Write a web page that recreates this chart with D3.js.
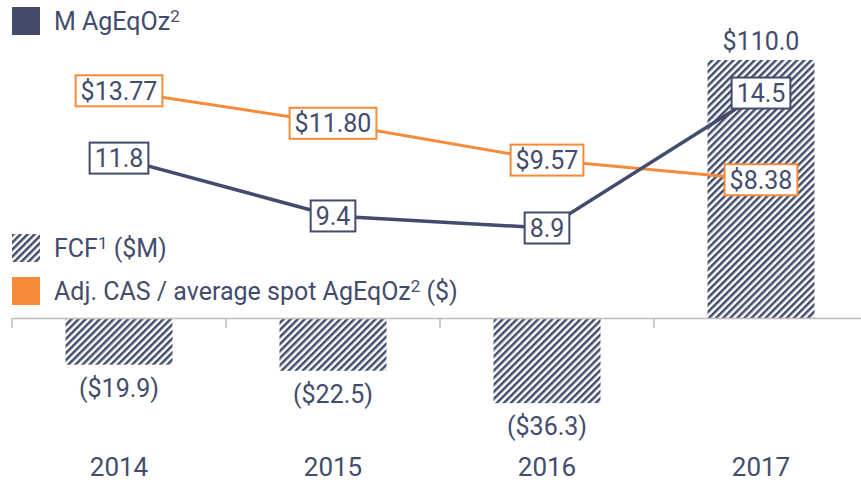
<!DOCTYPE html>
<html>
<head>
<meta charset="utf-8">
<script src="https://cdn.jsdelivr.net/npm/d3@7"></script>
<style>
  body { margin: 0; background: #fff; }
  svg text { font-family: Roboto, "Liberation Sans", sans-serif; fill: #434c6c; }
</style>
</head>
<body>
<div id="chart"></div>
<script>
// chart data
const years = ["2014", "2015", "2016", "2017"];
const fcf = [-19.9, -22.5, -36.3, 110.0];
const fcfLabels = ["($19.9)", "($22.5)", "($36.3)", "$110.0"];
const agEqOz = [11.8, 9.4, 8.9, 14.5];
const agEqOzLabels = ["11.8", "9.4", "8.9", "14.5"];
const adjCas = [13.77, 11.80, 9.57, 8.38];
const adjCasLabels = ["$13.77", "$11.80", "$9.57", "$8.38"];

const width = 861, height = 483;
const navy = "#434c6c", orange = "#f68b3a";

const svg = d3.select("#chart").append("svg")
    .attr("width", width)
    .attr("height", height);

// hatch pattern for the FCF bars
const defs = svg.append("defs");
const pat = defs.append("pattern")
    .attr("id", "hatch")
    .attr("patternUnits", "userSpaceOnUse")
    .attr("width", 5)
    .attr("height", 5)
    .attr("patternTransform", "rotate(45)");
pat.append("rect").attr("width", 5).attr("height", 5).attr("fill", "#fff");
pat.append("line")
    .attr("x1", 0).attr("y1", 0).attr("x2", 0).attr("y2", 5)
    .attr("stroke", navy)
    .attr("stroke-width", 5);

const x = d3.scaleBand()
    .domain(years)
    .range([12, 868])
    .paddingInner(0)
    .paddingOuter(0);

const yBar = d3.scaleLinear().domain([-40, 110]).range([411.8, 60]);
const yOz = d3.scaleLinear().domain([0, 15]).range([442.5, 81]);
const yCas = d3.scaleLinear().domain([0, 15]).range([318, 70.5]);

const barW = x.bandwidth() * 0.5;
const cx = d => x(d) + x.bandwidth() / 2;

// bars
svg.append("g")
    .selectAll("rect")
    .data(fcf)
    .enter().append("rect")
    .attr("x", (d, i) => cx(years[i]) - barW / 2)
    .attr("y", d => yBar(Math.max(0, d)))
    .attr("width", barW)
    .attr("height", d => Math.abs(yBar(d) - yBar(0)))
    .attr("fill", "url(#hatch)");

// axis
const axis = svg.append("g")
    .attr("transform", `translate(0,${yBar(0)})`)
    .call(d3.axisBottom(x).tickSize(0).tickFormat(""));
axis.select(".domain").attr("stroke", "#bdbdbd").attr("stroke-width", 1.5);
axis.selectAll(".tick").remove();
axis.selectAll("line.sep")
    .data(years)
    .enter().append("line")
    .attr("class", "sep")
    .attr("x1", d => x(d)).attr("x2", d => x(d))
    .attr("y1", 0).attr("y2", 10)
    .attr("stroke", "#bdbdbd")
    .attr("stroke-width", 1.5);

// year labels
svg.append("g")
    .selectAll("text")
    .data(years)
    .enter().append("text")
    .attr("x", d => cx(d))
    .attr("y", 476)
    .attr("text-anchor", "middle")
    .style("font-size", "26px")
    .text(d => d);

// bar value labels
svg.append("g")
    .selectAll("text")
    .data(fcf)
    .enter().append("text")
    .attr("x", (d, i) => cx(years[i]))
    .attr("y", d => d >= 0 ? yBar(d) - 10 : yBar(d) + 32)
    .attr("text-anchor", "middle")
    .style("font-size", "25px")
    .text((d, i) => fcfLabels[i]);

// lines
const lineOz = d3.line().x((d, i) => cx(years[i])).y(d => yOz(d));
const lineCas = d3.line().x((d, i) => cx(years[i])).y(d => yCas(d));

svg.append("path")
    .datum(adjCas)
    .attr("d", lineCas)
    .attr("fill", "none")
    .attr("stroke", orange)
    .attr("stroke-width", 3);

svg.append("path")
    .datum(agEqOz)
    .attr("d", lineOz)
    .attr("fill", "none")
    .attr("stroke", navy)
    .attr("stroke-width", 3.5);

// boxed point labels
function boxLabels(values, labels, yScale, color) {
    const g = svg.append("g")
        .selectAll("g")
        .data(values)
        .enter().append("g")
        .attr("transform", (d, i) => `translate(${cx(years[i])},${yScale(d)})`);
    const rect = g.append("rect")
        .attr("fill", "#fff")
        .attr("stroke", color)
        .attr("stroke-width", 2);
    const txt = g.append("text")
        .attr("text-anchor", "middle")
        .attr("y", 9)
        .style("font-size", "25px")
        .text((d, i) => labels[i]);
    txt.each(function(d, i) {
        const w = this.getComputedTextLength() + 10;
        d3.select(rect.nodes()[i])
            .attr("x", -w / 2)
            .attr("y", -15.5)
            .attr("width", w)
            .attr("height", 31);
    });
}
boxLabels(adjCas, adjCasLabels, yCas, orange);
boxLabels(agEqOz, agEqOzLabels, yOz, navy);

// legend
const legend = [
    { y: 7, fill: navy, parts: [["M AgEqOz", false], ["2", true]] },
    { y: 234, fill: "url(#hatch)", parts: [["FCF", false], ["1", true], [" ($M)", false]] },
    { y: 277, fill: orange, parts: [["Adj. CAS / average spot AgEqOz", false], ["2", true], [" ($)", false]] }
];
const lg = svg.append("g")
    .selectAll("g")
    .data(legend)
    .enter().append("g")
    .attr("transform", d => `translate(12,${d.y})`);
lg.append("rect")
    .attr("width", 28)
    .attr("height", 28)
    .attr("fill", d => d.fill);
const lt = lg.append("text")
    .attr("x", 42)
    .attr("y", 23)
    .style("font-size", "25px");
lt.each(function(d) {
    const t = d3.select(this);
    d.parts.forEach(p => {
        const s = t.append("tspan").text(p[0]);
        if (p[1]) s.attr("dy", -8).style("font-size", "17px");
        else if (t.selectAll("tspan").size() > 1) s.attr("dy", 8);
    });
});
</script>
</body>
</html>
